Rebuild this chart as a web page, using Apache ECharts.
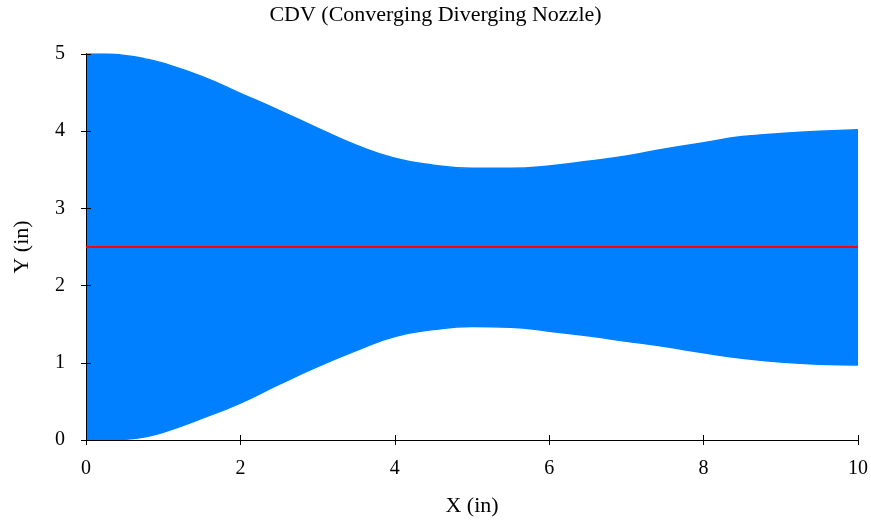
<!DOCTYPE html>
<html>
<head>
<meta charset="utf-8">
<title>CDV</title>
<script src="https://cdn.jsdelivr.net/npm/echarts@6/dist/echarts.min.js"></script>
<style>
  html, body { margin: 0; padding: 0; background: #fff; }
  #nozzle { width: 871px; height: 520px; }
</style>
</head>
<body>
<div id="nozzle"></div>
<script>
var xList = [0, 0.25, 0.5, 0.75, 1, 1.5, 2, 2.5, 3, 3.5, 4, 4.5, 5, 5.5, 6, 6.5, 7, 7.5, 8, 8.5, 9, 9.5, 10]
var upperList = [5.0, 5.0, 4.98, 4.94, 4.88, 4.71, 4.49, 4.27, 4.04, 3.82, 3.65, 3.56, 3.52, 3.52, 3.55, 3.61, 3.68, 3.77, 3.85, 3.93, 3.97, 4.0, 4.02]
var lowerList = [0.0, 0.0, 0.01, 0.04, 0.1, 0.28, 0.48, 0.72, 0.95, 1.16, 1.34, 1.43, 1.47, 1.46, 1.41, 1.35, 1.28, 1.21, 1.13, 1.06, 1.01, 0.98, 0.97]
var centerX = [0, 10]
var centerY = [2.5, 2.5]

var myChart = echarts.init(document.getElementById('nozzle'))
var font = 'Liberation Serif'

var upperData = xList.map(function(x, i) {
  return [x, upperList[i]]
})
var lowerData = xList.map(function(x, i) {
  return [x, lowerList[i]]
})
var centerData = centerX.map(function(x, i) {
  return [x, centerY[i]]
})

var axisText = { color: '#000', fontFamily: font, fontSize: 20 }
var nameText = { color: '#000', fontFamily: font, fontSize: 22 }
var frameLine = { show: true, lineStyle: { color: '#000', width: 1 } }
var frameTick = { show: true, inside: true, length: 5, lineStyle: { color: '#000' } }

option = {
  animation: false,
  title: {
    text: 'CDV (Converging Diverging Nozzle)',
    left: 'center',
    top: 4,
    padding: 0,
    textStyle: { color: '#000', fontFamily: font, fontSize: 22, fontWeight: 'normal' }
  },
  grid: { left: 86, right: 13, top: 54, bottom: 80, containLabel: false, outerBoundsMode: 'none' },
  xAxis: [
    {
      type: 'value',
      min: 0,
      max: 10,
      interval: 2,
      z: 3,
      name: 'X (in)',
      nameLocation: 'middle',
      nameGap: 55,
      nameTextStyle: nameText,
      axisLine: frameLine,
      axisTick: frameTick,
      axisLabel: Object.assign({ margin: 19 }, axisText),
      splitLine: { show: false }
    },
    {
      type: 'value',
      position: 'top',
      min: 0,
      max: 10,
      interval: 2,
      z: 3,
      axisLine: frameLine,
      axisTick: frameTick,
      axisLabel: { show: false },
      splitLine: { show: false }
    }
  ],
  yAxis: [
    {
      type: 'value',
      min: 0,
      max: 5,
      interval: 1,
      z: 3,
      name: 'Y (in)',
      nameLocation: 'middle',
      nameRotate: 90,
      nameGap: 53,
      nameTextStyle: nameText,
      axisLine: frameLine,
      axisTick: frameTick,
      axisLabel: Object.assign({ margin: 21 }, axisText),
      splitLine: { show: false }
    },
    {
      type: 'value',
      position: 'right',
      min: 0,
      max: 5,
      interval: 1,
      z: 3,
      axisLine: frameLine,
      axisTick: frameTick,
      axisLabel: { show: false },
      splitLine: { show: false }
    }
  ],
  series: [
    {
      // upper wall, filled down to y = 0
      name: 'upper',
      type: 'line',
      smooth: true,
      showSymbol: false,
      lineStyle: { color: '#0080ff', width: 1.5 },
      areaStyle: { color: '#0080ff', opacity: 1 },
      data: upperData,
      z: 1
    },
    {
      // lower wall, cleared back to white below it
      name: 'lower',
      type: 'line',
      smooth: true,
      showSymbol: false,
      lineStyle: { color: '#0080ff', width: 1.5 },
      areaStyle: { color: '#ffffff', opacity: 1 },
      data: lowerData,
      z: 2
    },
    {
      name: 'center',
      type: 'line',
      showSymbol: false,
      lineStyle: { color: '#ff0000', width: 2 },
      data: centerData,
      z: 4
    }
  ]
}
myChart.setOption(option, true)
window.onresize = function() {
  myChart.resize()
}
</script>
</body>
</html>
